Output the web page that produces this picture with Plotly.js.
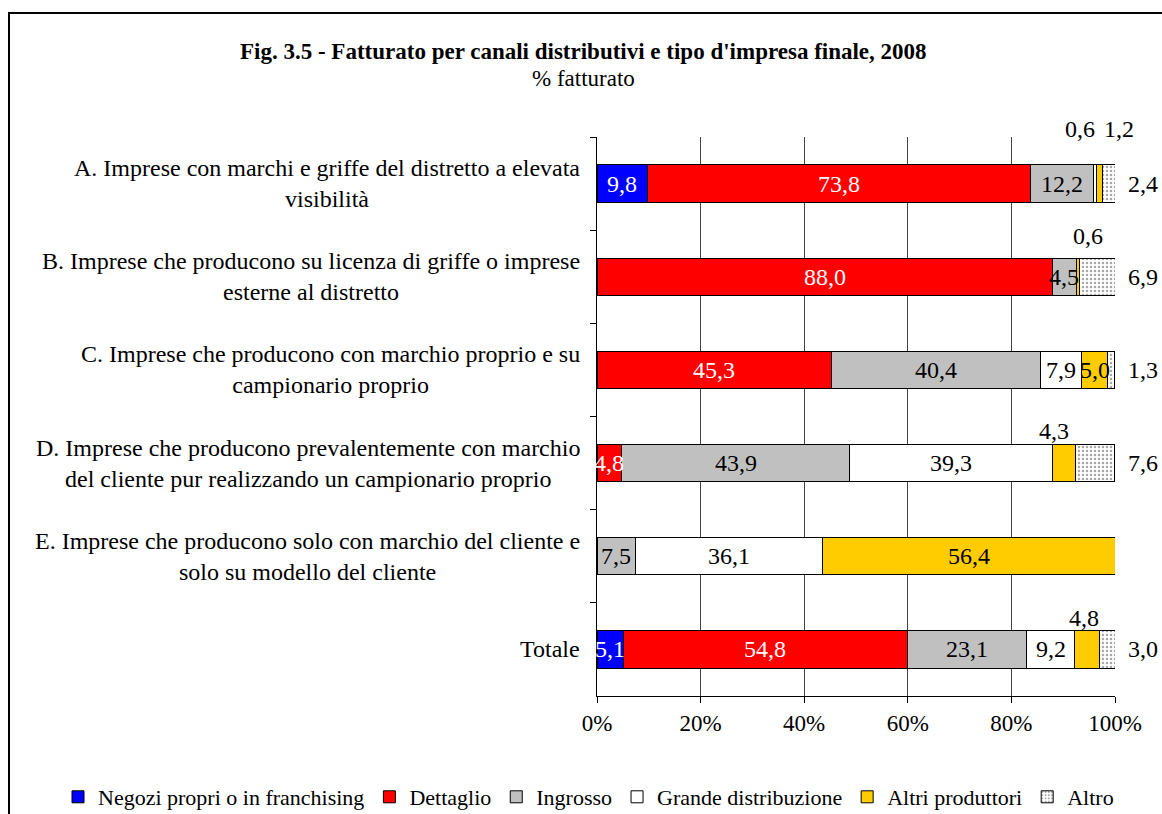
<!DOCTYPE html>
<html>
<head>
<meta charset="utf-8">
<script src="https://cdn.plot.ly/plotly-3.0.1.min.js"></script>
<style>
  html, body { margin: 0; padding: 0; background: #fff; }
  #wrap { position: relative; width: 1162px; height: 814px; }
  #chart { width: 1162px; height: 814px; }
  #frame { position: absolute; left: 8px; top: 12px; width: 1160px; height: 810px;
           border-left: 2px solid #000; border-top: 2px solid #000; pointer-events: none; }
</style>
</head>
<body>
<div id="wrap">
  <div id="chart"></div>
  <div id="frame"></div>
</div>
<script>
// ---------- DATA ----------
const categories = [
  "A. Imprese con marchi e griffe del distretto a elevata<br>visibilità",
  "B. Imprese che producono su licenza di griffe o imprese<br>esterne al distretto",
  "C. Imprese che producono con marchio proprio e su<br>campionario proprio",
  "D. Imprese che producono prevalentemente con marchio<br>del cliente pur realizzando un campionario proprio",
  "E. Imprese che producono solo con marchio del cliente e<br>solo su modello del cliente",
  "Totale"
];
const seriesNames = ["Negozi propri o in franchising", "Dettaglio", "Ingrosso",
                     "Grande distribuzione", "Altri produttori", "Altro"];
const negozi     = [9.8, null, null, null, null, 5.1];
const dettaglio  = [73.8, 88.0, 45.3, 4.8, null, 54.8];
const ingrosso   = [12.2, 4.5, 40.4, 43.9, 7.5, 23.1];
const grandeDist = [0.6, null, 7.9, 39.3, 36.1, 9.2];
const altriProd  = [1.2, 0.6, 5.0, 4.3, 56.4, 4.8];
const altro      = [2.4, 6.9, 1.3, 7.6, null, 3.0];
const xTicks     = [0, 20, 40, 60, 80, 100];
const titleText  = "Fig. 3.5 - Fatturato per canali distributivi e tipo d'impresa finale, 2008";
const subtitleText = "% fatturato";

// ---------- STYLE ----------
const FONT = "Liberation Serif, Times New Roman, serif";
const FS = 24;
const fillColors = ["#0000FF", "#FF0000", "#C0C0C0", "#FFFFFF", "#FFCC00", "#FFFFFF"];
const labelColors = ["#FFFFFF", "#FFFFFF", "#000000", "#000000", "#000000", "#000000"];
// label placement overrides: key "cat,series"
const outside = {
  "0,3": {mode: "above", dx: -15, dy: 55},
  "0,4": {mode: "above", dx: 20, dy: 55},
  "0,5": {mode: "right"},
  "1,4": {mode: "above", dx: 10, dy: 41},
  "1,5": {mode: "right"},
  "2,5": {mode: "right"},
  "3,4": {mode: "above", dx: -10, dy: 32},
  "3,5": {mode: "right"},
  "5,4": {mode: "above", dx: -3, dy: 31},
  "5,5": {mode: "right"}
};

const series = [negozi, dettaglio, ingrosso, grandeDist, altriProd, altro];
const fmt = v => v.toFixed(1).replace('.', ',');

const traces = series.map((vals, i) => {
  const t = {
    type: 'bar', orientation: 'h', name: seriesNames[i],
    y: categories, x: vals,
    marker: { color: fillColors[i], line: { color: '#000', width: 1 } },
    hoverinfo: 'x+name'
  };
  if (i === 5) {
    t.marker.pattern = { shape: '.', fgcolor: '#a8a8a8', bgcolor: '#ffffff', size: 4, solidity: 0.3 };
  }
  return t;
});

const annotations = [];
categories.forEach((cat, c) => {
  let cum = 0;
  series.forEach((vals, s) => {
    const v = vals[c];
    if (v === null || v === undefined) return;
    const mid = cum + v / 2;
    cum += v;
    const o = outside[c + ',' + s];
    if (!o) {
      annotations.push({ x: mid, y: cat, xref: 'x', yref: 'y', text: fmt(v), showarrow: false,
        font: { family: FONT, size: FS, color: labelColors[s] }, xanchor: 'center', yanchor: 'middle' });
    } else if (o.mode === 'above') {
      annotations.push({ x: mid, y: cat, xref: 'x', yref: 'y', text: fmt(v), showarrow: false,
        font: { family: FONT, size: FS, color: '#000' }, xanchor: 'center', yanchor: 'middle',
        xshift: o.dx, yshift: o.dy });
    } else {
      annotations.push({ x: 100, y: cat, xref: 'x', yref: 'y', text: fmt(v), showarrow: false,
        font: { family: FONT, size: FS, color: '#000' }, xanchor: 'left', yanchor: 'middle',
        xshift: 11 });
    }
  });
  annotations.push({ x: 0, y: cat, xref: 'paper', yref: 'y', text: cat, showarrow: false,
    font: { family: FONT, size: FS, color: '#000' }, xanchor: 'right', yanchor: 'middle',
    align: 'center', xshift: -15 });
});

const L = 597, R = 1115, T = 137, B = 696, W = 1162, H = 814;
const px2paperX = px => (px - L) / (R - L);
const px2paperY = py => (B - py) / (B - T);
annotations.push({ xref: 'paper', yref: 'paper', x: px2paperX(583), y: px2paperY(51),
  text: '<b>' + titleText + '</b>', showarrow: false, xanchor: 'center', yanchor: 'middle',
  font: { family: FONT, size: 23, color: '#000' } });
annotations.push({ xref: 'paper', yref: 'paper', x: px2paperX(583), y: px2paperY(78),
  text: subtitleText, showarrow: false, xanchor: 'center', yanchor: 'middle',
  font: { family: FONT, size: 23, color: '#000' } });

const layout = {
  width: W, height: H,
  margin: { l: L, r: W - R, t: T, b: H - B, pad: 0, autoexpand: false },
  paper_bgcolor: '#fff', plot_bgcolor: '#fff',
  barmode: 'stack', bargap: 0.6,
  showlegend: true,
  legend: {
    orientation: 'h', xref: 'paper', yref: 'paper', x: px2paperX(58), y: px2paperY(797),
    xanchor: 'left', yanchor: 'middle', traceorder: 'normal',
    font: { family: FONT, size: 22, color: '#000' }, itemwidth: 30, itemclick: false
  },
  xaxis: {
    range: [0, 100], tickvals: xTicks, ticktext: xTicks.map(v => v + '%'),
    showgrid: true, gridcolor: '#444', gridwidth: 1,
    showline: true, linecolor: '#000', linewidth: 1,
    ticks: 'outside', ticklen: 6, tickcolor: '#000',
    tickfont: { family: FONT, size: 23, color: '#000' }, zeroline: false, fixedrange: true
  },
  yaxis: {
    type: 'category', autorange: 'reversed', tickson: 'boundaries',
    showticklabels: false, showgrid: false, showline: true, linecolor: '#000', linewidth: 1,
    ticks: 'outside', ticklen: 6, tickcolor: '#000', zeroline: false, fixedrange: true
  },
  annotations: annotations
};

Plotly.newPlot('chart', traces, layout, { displayModeBar: false, staticPlot: true });
</script>
</body>
</html>
